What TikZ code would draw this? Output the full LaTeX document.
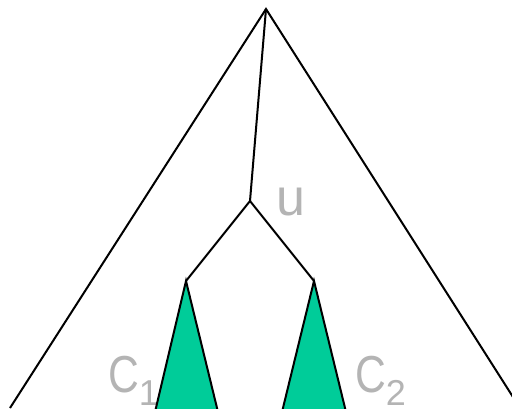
\documentclass[tikz,border=0pt]{standalone}
\usepackage{fontspec}
\setmainfont{Liberation Sans}
\definecolor{tgreen}{RGB}{0,204,153}
\definecolor{lgray}{RGB}{180,180,180}
\newcommand{\cname}[1]{\scalebox{0.82}[1]{C}\raisebox{-13pt}{\fontsize{36}{36}\selectfont #1}}
\tikzset{
  edge/.style={draw=black, line width=2pt, line join=miter},
  lbl/.style={text=lgray, inner sep=0pt, font=\fontsize{52}{52}\selectfont, anchor=base west},
}
\begin{document}
\begin{tikzpicture}[x=1pt,y=-1pt]
\useasboundingbox (0,0) rectangle (512,408);
\clip (0,0) rectangle (512,408);
\fill[white] (0,0) rectangle (512,408);
\coordinate (top) at (266,9);
\coordinate (bl) at (10,408);
\coordinate (br) at (520,408);
\coordinate (u) at (250,201);
\coordinate (c1) at (186,281);
\coordinate (c2) at (314,281);
\coordinate (c1l) at (155,412);
\coordinate (c1r) at (218,412);
\coordinate (c2l) at (282,412);
\coordinate (c2r) at (346,412);
\draw[edge] (bl) -- (top) -- (br);
\draw[edge] (top) -- (u);
\draw[edge] (c1) -- (u) -- (c2);
\node[lbl] (lu) at (276,215) {u};
\node[lbl] (l1) at (108,392) {\cname{1}};
\node[lbl] (l2) at (355,392) {\cname{2}};
\fill[tgreen] (c1l) -- (c1) -- (c1r) -- cycle;
\draw[edge] (c1l) -- (c1) -- (c1r);
\fill[tgreen] (c2l) -- (c2) -- (c2r) -- cycle;
\draw[edge] (c2l) -- (c2) -- (c2r);
\end{tikzpicture}
\end{document}
